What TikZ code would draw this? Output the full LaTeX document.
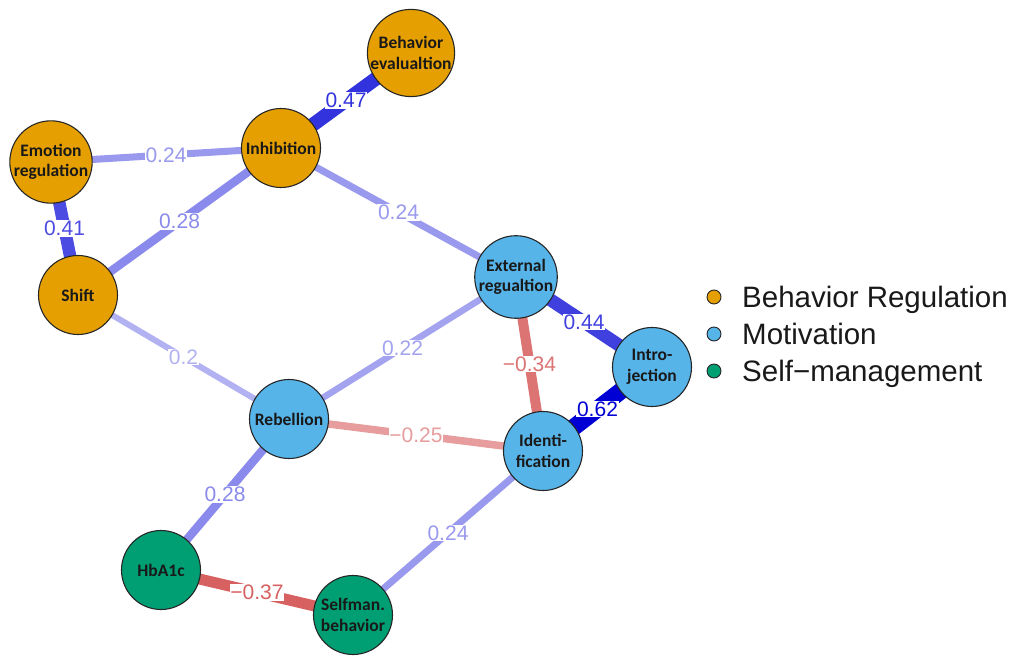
\documentclass[tikz,border=0pt]{standalone}
\usepackage{fontspec}
\setmainfont{Liberation Sans}
\newfontfamily\nodefont{Carlito}
\pgfdeclarelayer{bg}
\pgfsetlayers{bg,main}
\definecolor{cOr}{HTML}{E69F00}
\definecolor{cBl}{HTML}{56B4E9}
\definecolor{cGr}{HTML}{009E73}
\definecolor{pB}{HTML}{0000D5}
\definecolor{nR}{HTML}{CC3333}
\colorlet{b62}{pB}
\colorlet{b47}{pB!80!white}
\colorlet{b44}{pB!75!white}
\colorlet{b41}{pB!70!white}
\colorlet{b28}{pB!46!white}
\colorlet{b24}{pB!40!white}
\colorlet{b22}{pB!36!white}
\colorlet{b20}{pB!30!white}
\colorlet{r37}{nR!78!white}
\colorlet{r34}{nR!68!white}
\colorlet{r25}{nR!48!white}
\tikzset{
  var/.style={circle, draw=black!85, line width=1.1pt, minimum size=79pt, inner sep=0pt,
    align=center, text=black!90, font=\nodefont\bfseries\fontsize{17.5}{20.5}\selectfont},
  br/.style={var, fill=cOr},
  mo/.style={var, fill=cBl},
  sm/.style={var, fill=cGr},
  wlab/.style={fill=white, inner sep=0.8pt, font=\fontsize{21}{23}\selectfont},
  edge/.style args={#1/#2}{draw=#1, line width=#2pt},
  legdot/.style={circle, draw=black!85, line width=0.9pt, minimum size=14pt, inner sep=0pt},
  legtxt/.style={anchor=base west, inner sep=0pt, text=black!90, font=\fontsize{29.5}{32}\selectfont}
}
\begin{document}
\begin{tikzpicture}[x=1pt,y=-1pt]
\useasboundingbox (0,0) rectangle (1017,658);
\node[br] (be) at (411,53) {Behavior\\evalualtion};
\node[br] (in) at (281,148) {Inhibition};
\node[br] (er) at (51,162) {Emotion\\regulation};
\node[br] (sh) at (78,295) {Shift};
\node[mo] (ex) at (516,277) {External\\regualtion};
\node[mo] (ij) at (652,367) {Intro-\\jection};
\node[mo] (re) at (289,419) {Rebellion};
\node[mo] (id) at (543,451) {Identi-\\fication};
\node[sm] (hb) at (161,570) {HbA1c};
\node[sm] (sb) at (353,615) {Selfman.\\behavior};
\begin{pgfonlayer}{bg}
\draw[edge=b47/14] (in.center) -- node[wlab, text=b47] {0.47} (be.center);
\draw[edge=b24/7] (er.center) -- node[wlab, text=b24] {0.24} (in.center);
\draw[edge=b41/12.5] (er.center) -- node[wlab, text=b41] {0.41} (sh.center);
\draw[edge=b28/8.5] (sh.center) -- node[wlab, text=b28] {0.28} (in.center);
\draw[edge=b24/7] (in.center) -- node[wlab, text=b24] {0.24} (ex.center);
\draw[edge=b20/6] (sh.center) -- node[wlab, text=b20] {0.2} (re.center);
\draw[edge=b22/6.5] (re.center) -- node[wlab, text=b22] {0.22} (ex.center);
\draw[edge=b44/13] (ex.center) -- node[wlab, text=b44] {0.44} (ij.center);
\draw[edge=r34/10] (ex.center) -- node[wlab, text=r34] {−0.34} (id.center);
\draw[edge=b62/17] (ij.center) -- node[wlab, text=b62] {0.62} (id.center);
\draw[edge=r25/7.5] (re.center) -- node[wlab, text=r25] {−0.25} (id.center);
\draw[edge=b28/8.5] (re.center) -- node[wlab, text=b28] {0.28} (hb.center);
\draw[edge=b24/7] (id.center) -- node[wlab, text=b24] {0.24} (sb.center);
\draw[edge=r37/11] (hb.center) -- node[wlab, text=r37] {−0.37} (sb.center);
\end{pgfonlayer}
\node[legdot, fill=cOr] (l1) at (714,297) {};
\node[legdot, fill=cBl] (l2) at (714,334) {};
\node[legdot, fill=cGr] (l3) at (714,371) {};
\node[legtxt] (t1) at (742,307.5) {Behavior Regulation};
\node[legtxt] (t2) at (742,344.5) {Motivation};
\node[legtxt] (t3) at (742,381.5) {Self−management};
\end{tikzpicture}
\end{document}
